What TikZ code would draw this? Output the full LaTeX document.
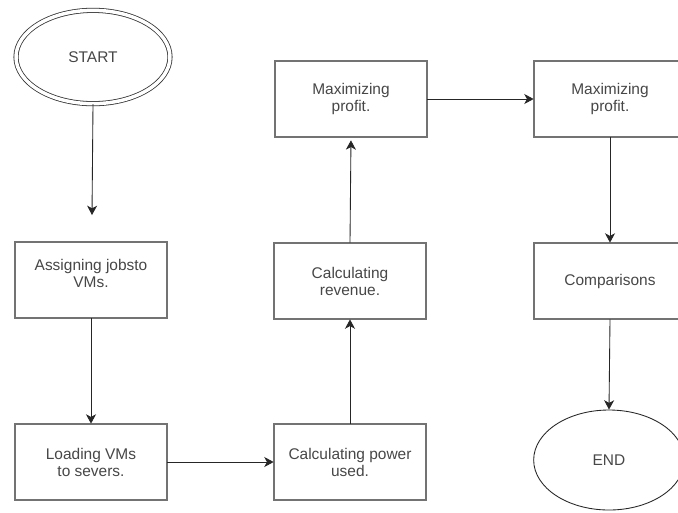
\documentclass[tikz,border=0pt]{standalone}
\usepackage{fontspec}
\setmainfont{Liberation Sans}
\usetikzlibrary{shapes.geometric,arrows.meta}
\begin{document}
\begin{tikzpicture}[x=0.75pt,y=-0.75pt,
  lbl/.style={font=\fontsize{11.6pt}{12.8pt}\selectfont, text=black!72, align=center},
  procbox/.style={rectangle, draw=black!85, double=black!55, double distance=1pt, line width=0.6pt,
    minimum width=114pt, minimum height=57pt, inner sep=0pt},
  startell/.style={ellipse, draw=black!80, double=white, double distance=2.6pt, line width=0.6pt,
    minimum width=115.5pt, minimum height=70pt, inner sep=0pt},
  endell/.style={ellipse, draw=black!85, line width=0.65pt,
    minimum width=113pt, minimum height=75pt, inner sep=0pt},
  conn/.style={draw=black!85, line width=0.65pt, -{Stealth[length=7pt,width=7.5pt,inset=2pt]}}
]
\clip (0,0) rectangle (678,512);
\useasboundingbox (0,0) rectangle (678,512);
\fill[white] (0,0) rectangle (678,512);

\node[startell] (start) at (93,57) {};
\node[lbl] at (start.center) {START};

\node[procbox] (assign) at (91,280) {};
\node[lbl, yshift=5pt] at (assign.center) {Assigning jobsto\\VMs.};

\node[procbox] (load) at (91,462) {};
\node[lbl] at (load.center) {Loading VMs\\to severs.};

\node[procbox] (power) at (350,462) {};
\node[lbl] at (power.center) {Calculating power\\used.};

\node[procbox] (revenue) at (350,281) {};
\node[lbl] at (revenue.center) {Calculating\\revenue.};

\node[procbox] (max1) at (351,99) {};
\node[lbl] at (max1.center) {Maximizing\\profit.};

\node[procbox] (max2) at (610,99) {};
\node[lbl] at (max2.center) {Maximizing\\profit.};

\node[procbox] (comp) at (610,281) {};
\node[lbl] at (comp.center) {Comparisons};

\node[endell] (end) at (609,460) {};
\node[lbl] at (end.center) {END};

\coordinate (a1end) at (92,215);

\draw[conn] (start.south) -- (a1end);
\draw[conn] (assign.south) -- (load.north);
\draw[conn] (load.east) -- (power.west);
\draw[conn] (power.north) -- (revenue.south);
\draw[conn, shorten >=2.2pt] (revenue.north) -- (max1.south);
\draw[conn] (max1.east) -- (max2.west);
\draw[conn] (max2.south) -- (comp.north);
\draw[conn] (comp.south) -- (end.north);
\end{tikzpicture}
\end{document}
